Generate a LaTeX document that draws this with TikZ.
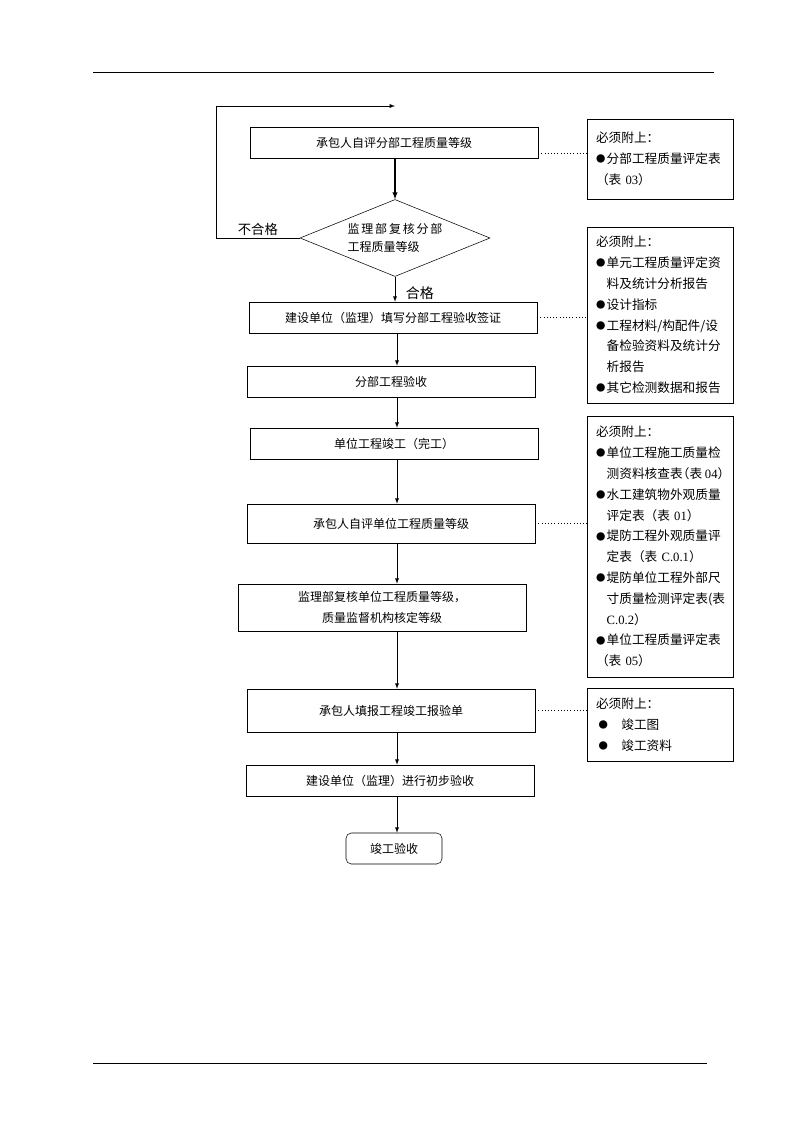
\documentclass[tikz,border=0pt]{standalone}
\usepackage{fontspec}
\setmainfont{Noto Sans CJK SC}
\newfontfamily\serifnum{Liberation Serif}
\usetikzlibrary{shapes,arrows,positioning}

\newcommand{\dotmark}{\raisebox{0.6pt}{\fontsize{7}{7}\selectfont ●}\hspace{1pt}}
\newcommand{\dotgap}{\phantom{\dotmark}}

\begin{document}
\begin{tikzpicture}[x=0.75pt, y=-0.75pt, auto]

  % Define styles for steps and notes
  \tikzstyle{stepbox} = [rectangle, draw, text centered, minimum width=216pt, minimum height=23.25pt, inner sep=0pt, font=\fontsize{9}{15.75}\selectfont]
  \tikzstyle{check} = [diamond, draw, aspect=2.47, minimum width=142.5pt, minimum height=57.75pt, inner sep=0pt, align=left, font=\fontsize{9}{13.5}\selectfont]
  \tikzstyle{notebox} = [rectangle, draw, minimum width=109.5pt, inner sep=0pt, text width=96pt, align=left, font=\fontsize{9.5}{15.6}\selectfont]
  \tikzstyle{flow} = [->, >=latex]
  \tikzstyle{link} = [dotted]

  \useasboundingbox (0,0) rectangle (794,1123);

  % Page rules
  \draw[line width=0.6pt] (93,72) -- (714,72);
  \draw[line width=0.6pt] (93,1063) -- (707,1063);

  % Steps
  \node[stepbox] (selfpart) at (394,143) {承包人自评分部工程质量等级};
  \node[check] (reviewpart) at (395,238) {\makebox[71.25pt][s]{监\hfill 理\hfill 部\hfill 复\hfill 核\hfill 分\hfill 部}\\工程质量等级};
  \node[stepbox] (signpart) at (393,317.5) {建设单位（监理）填写分部工程验收签证};
  \node[stepbox] (acceptpart) at (391,381.5) {分部工程验收};
  \node[stepbox] (unitdone) at (394,443.5) {单位工程竣工（完工）};
  \node[stepbox, minimum height=29.25pt] (selfunit) at (391,523.5) {承包人自评单位工程质量等级};
  \node[stepbox, minimum height=35.25pt, align=center] (reviewunit) at (382,607.5) {监理部复核单位工程质量等级，\\质量监督机构核定等级};
  \node[stepbox, minimum height=32.25pt] (report) at (391,710.5) {承包人填报工程竣工报验单};
  \node[stepbox] (preaccept) at (390,780.5) {建设单位（监理）进行初步验收};
  \node[stepbox, rounded corners=4pt, minimum width=72pt] (final) at (394,848.5) {竣工验收};

  % Notes
  \node[notebox, minimum height=60pt] (need1) at (660,159) {必须附上：\\\dotmark 分部工程质量评定表\\（表 {\serifnum 03}）};
  \node[notebox, minimum height=132pt] (need2) at (660,315) {必须附上：\\\dotmark 单元工程质量评定资\\\dotgap 料及统计分析报告\\\dotmark 设计指标\\\dotmark 工程材料/构配件/设\\\dotgap 备检验资料及统计分\\\dotgap 析报告\\\dotmark 其它检测数据和报告};
  \node[notebox, minimum height=195.75pt] (need3) at (660,546.5) {必须附上：\\\dotmark 单位工程施工质量检\\\mbox{\dotgap 测资料核查表\kern-0.45em（表\kern2pt{\serifnum 04}）}\\\dotmark 水工建筑物外观质量\\\dotgap 评定表（表 {\serifnum 01}）\\\dotmark 堤防工程外观质量评\\\dotgap 定表（表 {\serifnum C.0.1}）\\\dotmark 堤防单位工程外部尺\\\mbox{\dotgap 寸质量检测评定表(表}\\\dotgap {\serifnum C.0.2}）\\\dotmark 单位工程质量评定表\\（表 {\serifnum 05}）};
  \node[notebox, minimum height=54.75pt] (need4) at (660,724.5) {必须附上：\\\hspace{2pt}\dotmark\hspace{9pt}竣工图\\\hspace{2pt}\dotmark\hspace{9pt}竣工资料};

  % Main flow
  \coordinate (spine) at (397,0);
  \draw[flow, thick] (selfpart.south -| reviewpart.north) -- (reviewpart.north);
  \draw[flow] (reviewpart.south) -- (signpart.north -| reviewpart.south)
    node[midway, right=8pt, yshift=-3pt, inner sep=0pt, font=\fontsize{10.5}{12}\selectfont] {合格};
  \draw[flow] (signpart.south -| spine) -- (acceptpart.north -| spine);
  \draw[flow] (acceptpart.south -| spine) -- (unitdone.north -| spine);
  \draw[flow] (unitdone.south -| spine) -- (selfunit.north -| spine);
  \draw[flow] (selfunit.south -| spine) -- (reviewunit.north -| spine);
  \draw[flow] (reviewunit.south -| spine) -- (report.north -| spine);
  \draw[flow] (report.south -| spine) -- (preaccept.north -| spine);
  \draw[flow] (preaccept.south -| spine) -- (final.north -| spine);

  % Rejected loop
  \coordinate (loopc) at (216,106);
  \coordinate (loopend) at (395,106);
  \draw[flow] (reviewpart.west) -| node[pos=0.25, above, inner sep=1.5pt, font=\fontsize{10}{12}\selectfont] {不合格} (loopc) -- (loopend);

  % Links to notes
  \coordinate (tap1) at ([yshift=-7.5pt]selfpart.east);
  \draw[link] (tap1) -- (tap1 -| need1.west);
  \draw[link] (signpart.east) -- (signpart.east -| need2.west);
  \draw[link] (selfunit.east) -- (selfunit.east -| need3.west);
  \draw[link] (report.east) -- (report.east -| need4.west);

\end{tikzpicture}
\end{document}
